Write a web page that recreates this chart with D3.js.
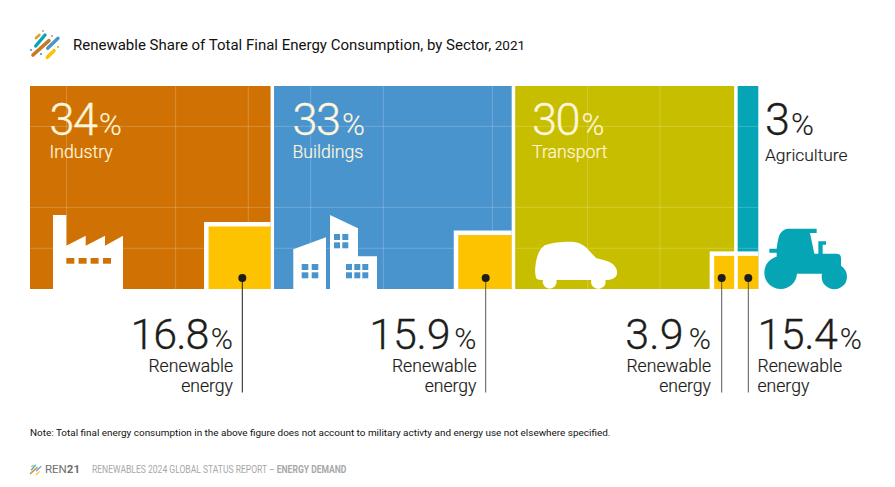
<!DOCTYPE html>
<html><head><meta charset="utf-8">
<script src="https://cdn.jsdelivr.net/npm/d3@7"></script>
<style>html,body{margin:0;padding:0;background:#fff}svg{display:block}text{font-family:Roboto,sans-serif}</style>
</head><body><svg id="c" width="895" height="487"></svg>
<script>
const sectors = ["Industry","Buildings","Transport","Agriculture"];
const shareLabels = ["34","33","30","3"];
const barShares = [33.35,32.95,30.4,3.3];
const renewableLabels = ["16.8","15.9","3.9","15.4"];
const boxWidthShare = [8.47,7.3,2.73,2.8];
const boxHeightPct = [30.8,26.6,16.3,16.3];
const colors = ["#D07203","#4A94CE","#C8BE00","#05A5B5"];
const yellow = "#FDC300", ink = "#1d1d1b", cream = "#FFF6DC";
const title = "Renewable Share of Total Final Energy Consumption, by Sector,";
const titleYear = "2021";
const note = "Note: Total final energy consumption in the above figure does not account to military activty and energy use not elsewhere specified.";
const gridXShare = [5.0,19.9,29.83,38.35,48.28,63.2,76.2,86.1];
const gridYPct = [80.1,40.2,20.05];

const svg = d3.select("#c");
const x = d3.scaleLinear().domain([0,100]).range([30,761.8]);
const y = d3.scaleLinear().domain([0,100]).range([289,86]);
const gap = 3.5, boxMargin = 4.5;
const leaderX = [242.3,485.7,721.7,748.3];
let cum = 0;
const bars = sectors.map((s,i)=>{
  const x0 = x(cum); cum += barShares[i];
  const x1 = x(cum)-gap;
  const bw = x(boxWidthShare[i])-x(0), bh = y(0)-y(boxHeightPct[i]);
  return {s,i,x0,x1,bw,bh,boxX:x1-bw,boxY:y(0)-bh,dotX:leaderX[i]};
});

svg.append("defs").append("clipPath").attr("id","barClip").selectAll("rect").data(bars).join("rect")
  .attr("x",d=>d.x0).attr("y",y(100)).attr("width",d=>d.x1-d.x0).attr("height",y(0)-y(100));
svg.append("g").selectAll("rect").data(bars).join("rect")
  .attr("x",d=>d.x0).attr("y",y(100)).attr("width",d=>d.x1-d.x0).attr("height",y(0)-y(100)).attr("fill",d=>colors[d.i]);
const grid = svg.append("g").attr("clip-path","url(#barClip)").attr("stroke","#fff").attr("stroke-opacity",.25).attr("stroke-width",.8);
grid.selectAll(".gx").data(gridXShare).join("line").attr("class","gx").attr("x1",x).attr("x2",x).attr("y1",y(100)).attr("y2",y(0));
grid.selectAll(".gy").data(gridYPct).join("line").attr("class","gy").attr("y1",y).attr("y2",y).attr("x1",x(0)).attr("x2",x(100));
svg.append("g").selectAll("rect").data(bars).join("rect")
  .attr("x",d=>d.boxX-boxMargin).attr("y",d=>d.boxY-boxMargin).attr("width",d=>d.bw+boxMargin).attr("height",d=>d.bh+boxMargin).attr("fill","#fff");
svg.append("g").selectAll("rect").data(bars).join("rect")
  .attr("x",d=>d.boxX).attr("y",d=>d.boxY).attr("width",d=>d.bw).attr("height",d=>d.bh).attr("fill",yellow);

// icons
const icons = svg.append("g");
const orange = colors[0], blue = colors[1], teal = colors[3];
icons.append("path").attr("fill","#fff").attr("d","M53 289V215H66.3V245.7L85.7 235.7V245.7L105 235.7V245.7L123 235.7V289Z");
[66.3,78.6,90.6,103].forEach(v=>icons.append("rect").attr("x",v).attr("y",258).attr("width",8).attr("height",5.7).attr("fill",orange));
icons.append("path").attr("fill","#fff").attr("d","M293.3 249.3L326 237.3V289H293.3ZM330 215L358 228.3V256.3H377V289H330Z");
[[301.7,264],[311.7,264],[301.7,272.3],[311.7,272.3]].forEach(p=>icons.append("rect").attr("x",p[0]).attr("y",p[1]).attr("width",6.6).attr("height",6).attr("fill",blue));
[[334,234],[342.3,234],[334,242.3],[342.3,242.3],[346,264],[354.3,264],[362.3,264],[346,272.3],[354.3,272.3],[362.3,272.3]]
  .forEach(p=>icons.append("rect").attr("x",p[0]).attr("y",p[1]).attr("width",6).attr("height",6).attr("fill",blue));
const car = icons.append("g").attr("transform","translate(528,235) scale(.3333)").attr("fill","#fff");
car.append("path").attr("d","M25 130C20 115 21 100 23 88C26 65 32 45 50 31C70 23 100 20 125 20C150 20 165 28 175 38L205 70C225 75 245 79 255 88C266 98 270 110 266 120C262 130 250 135 235 135H40C32 135 27 134 25 130Z");
car.append("circle").attr("cx",65).attr("cy",140).attr("r",21);
car.append("circle").attr("cx",211).attr("cy",140).attr("r",22);
const tractor = icons.append("g").attr("transform","translate(760,222) scale(.3333)").attr("fill",teal);
tractor.append("path").attr("d","M85 20H170V33H150L163 95H175V58H198V68H188V95H230C238 95 243 100 243 108V135L200 155H60L50 105V92H28V80H50C53 60 55 42 62 33C68 25 75 20 85 20Z");
tractor.append("circle").attr("cx",62).attr("cy",152).attr("r",49);
tractor.append("circle").attr("cx",223).attr("cy",164).attr("r",38);

// leader lines
svg.append("g").selectAll("line").data(bars).join("line")
  .attr("x1",d=>d.dotX).attr("x2",d=>d.dotX).attr("y1",278).attr("y2",392.5)
  .attr("stroke",(d,i)=>i?"#555":ink).attr("stroke-width",1);
svg.append("g").selectAll("circle").data(bars).join("circle")
  .attr("cx",d=>d.dotX).attr("cy",278).attr("r",4).attr("fill",ink);

// share labels
const labX = [49.5,292.5,532,765];
bars.forEach((d,i)=>{
  const fill = i<3?cream:ink;
  const t = svg.append("text").attr("x",labX[i]).attr("y",135).attr("fill",fill).attr("stroke",fill).attr("stroke-width",.3).attr("font-weight",300);
  t.append("tspan").attr("font-size",45).attr("letter-spacing",-1.5).text(shareLabels[i]);
  t.append("tspan").attr("font-size",31).attr("dx",2.5).attr("stroke-width",.1).text("%");
  svg.append("text").attr("x",labX[i]).attr("y",i<3?158:161).attr("fill",fill).attr("stroke",fill).attr("stroke-width",.2).attr("font-weight",300).attr("font-size",i<3?17.7:17.4).text(d.s);
});
// renewable labels
const renX = [233,476.5,711,757.5];
const digitSpacing = [-1,-0.2,0.2,-0.5], pctGap = [2.5,4,5,2.5];
bars.forEach((d,i)=>{
  const anchor = i<3?"end":"start";
  const t = svg.append("text").attr("x",renX[i]).attr("y",349).attr("text-anchor",anchor).attr("fill",ink).attr("stroke",ink).attr("stroke-width",.3).attr("font-weight",300);
  t.append("tspan").attr("font-size",43).attr("letter-spacing",digitSpacing[i]).text(renewableLabels[i]);
  t.append("tspan").attr("font-size",30).attr("dx",pctGap[i]).attr("stroke-width",.1).text("%");
  ["Renewable","energy"].forEach((w,k)=>svg.append("text").attr("x",renX[i]).attr("y",372+k*20).attr("text-anchor",anchor)
    .attr("fill",ink).attr("stroke",ink).attr("stroke-width",.2).attr("font-weight",300).attr("font-size",17.6).text(w));
});

// title + note + footer
const tt = svg.append("text").attr("x",73).attr("y",50).attr("fill","#111");
tt.append("tspan").attr("font-size",15).attr("font-weight",400).text(title);
tt.append("tspan").attr("dx",3.5).attr("font-size",13.5).text(titleYear);
svg.append("text").attr("x",30).attr("y",436).attr("font-size",9.93).attr("fill","#111").text(note);
const ft = svg.append("text").attr("transform","translate(92,473) scale(.815,1)").attr("font-size",10.5).attr("fill","#a8a8a8");
ft.append("tspan").text("RENEWABLES 2024 GLOBAL STATUS REPORT – ");
ft.append("tspan").attr("font-weight",700).text("ENERGY DEMAND");
const rn = svg.append("text").attr("x",45).attr("y",473).attr("font-size",11.5).attr("fill","#6f6f6e");
rn.append("tspan").text("REN");
rn.append("tspan").attr("font-weight",700).text("21");

// logos
const logoStrokes = [[35.7,46,45,35,"#05A5B5",3.4],[33,55,49,40.7,"#C67A26",3.6],[47.7,48.3,58,38.3,"#4A94CE",3.4],[47.3,57.3,54,50.7,"#FDC300",3.6],[36,38,39.3,35,"#E0A030",2.8]];
const logoDots = [[43,31,"#D8A060"],[52,36,"#C9A070"],[31,50,"#4A94CE"],[41,54,"#4A94CE"],[58,47,"#C8BE00"]];
const big = svg.append("g");
big.selectAll("line").data(logoStrokes).join("line").attr("x1",d=>d[0]).attr("y1",d=>d[1]).attr("x2",d=>d[2]).attr("y2",d=>d[3])
  .attr("stroke",d=>d[4]).attr("stroke-width",d=>d[5]).attr("stroke-linecap","round");
big.selectAll("circle").data(logoDots).join("circle").attr("cx",d=>d[0]).attr("cy",d=>d[1]).attr("r",1.1).attr("fill",d=>d[2]);
const small = svg.append("g").attr("transform","translate(16.5,450.5) scale(.42)");
small.selectAll("line").data(logoStrokes).join("line").attr("x1",d=>d[0]).attr("y1",d=>d[1]).attr("x2",d=>d[2]).attr("y2",d=>d[3])
  .attr("stroke",d=>d[4]).attr("stroke-width",d=>d[5]).attr("stroke-linecap","round").attr("stroke-opacity",.8);
</script></body></html>
